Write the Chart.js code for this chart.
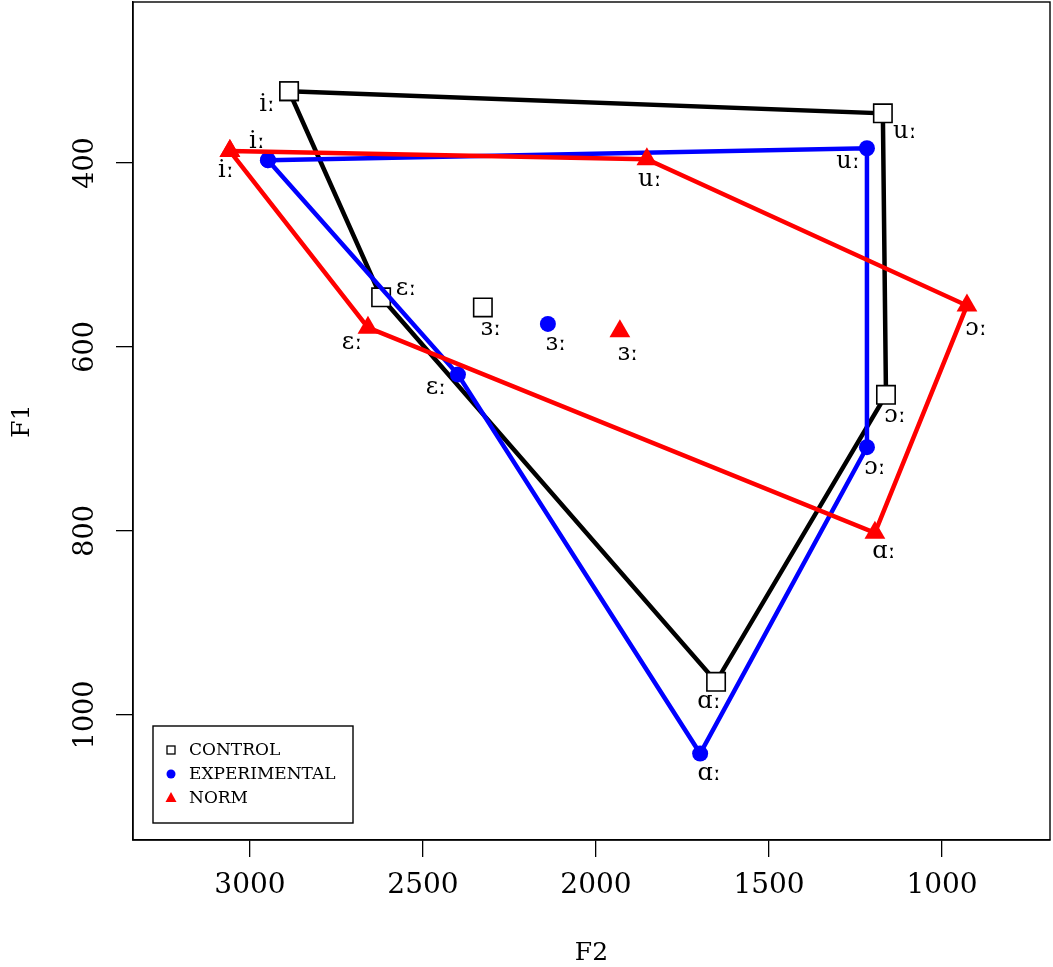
<!DOCTYPE html>
<html lang="en">
<head>
  <meta charset="UTF-8">
  <title>Vowel space F1/F2</title>
  <style>
    html, body { margin: 0; padding: 0; background: #fff; }
    #wrap { position: relative; width: 1053px; height: 967px; }
  </style>
</head>
<body>
  <div id="wrap">
    <canvas id="myChart" role="img" aria-label="F1 by F2 vowel chart for control, experimental and norm groups"></canvas>
  </div>

  <script src="https://cdnjs.cloudflare.com/ajax/libs/Chart.js/4.4.1/chart.umd.js"></script>
  <script>
    // vowels, in order: i u ɔ ɑ ɛ ɜ
    const vowels = ['iː', 'uː', 'ɔː', 'ɑː', 'ɛː', 'ɜː'];

    const controlF2 = [2887, 1171, 1162, 1653, 2621, 2327];
    const controlF1 = [322, 346, 652, 964, 546, 557];

    const experimentalF2 = [2948, 1217, 1217, 1699, 2399, 2139];
    const experimentalF1 = [397, 384, 709, 1042, 630, 575];

    const normF2 = [3058, 1853, 928, 1194, 2659, 1931];
    const normF1 = [387, 396, 555, 802, 579, 583];

    const xTicks = [3000, 2500, 2000, 1500, 1000];
    const yTicks = [400, 600, 800, 1000];

    // label offsets in px from the marker (i u ɔ ɑ ɛ ɜ)
    const labelOffsets = {
      control:      [[-22, 14], [22, 18], [9, 21], [-7, 20], [25, -9], [8, 21]],
      experimental: [[-11, -18], [-19, 14], [8, 21], [9, 20], [-22, 13], [8, 20]],
      norm:         [[-4, 20], [3, 20], [9, 23], [9, 19], [-16, 15], [8, 22]]
    };

    const FONT = "'DejaVu Serif', 'Liberation Serif', serif";

    // polygon goes i -> u -> ɔ -> ɑ -> ɛ -> back to i; ɜ is drawn alone
    function polygon(f2, f1) {
      const order = [0, 1, 2, 3, 4, 0];
      return order.map(i => ({ x: f2[i], y: f1[i] }));
    }
    function central(f2, f1) {
      return [{ x: f2[5], y: f1[5] }];
    }

    const styles = {
      control: { color: '#000000', fill: '#ffffff', shape: 'rect', r: 13, bw: 1.6 },
      experimental: { color: '#0000ff', fill: '#0000ff', shape: 'circle', r: 8, bw: 0 },
      norm: { color: '#ff0000', fill: '#ff0000', shape: 'triangle', r: 12, bw: 0 }
    };

    function makeSets(key, f2, f1, order) {
      const s = styles[key];
      const common = {
        pointStyle: s.shape,
        pointRadius: s.r,
        pointHoverRadius: s.r,
        pointBackgroundColor: s.fill,
        pointBorderColor: s.color,
        pointBorderWidth: s.bw,
        borderColor: s.color,
        order
      };
      return [
        Object.assign({ label: key, group: key, part: 'poly', data: polygon(f2, f1), showLine: true, borderWidth: 4.5, tension: 0 }, common),
        Object.assign({ label: key + ' ɜ', group: key, part: 'mid', data: central(f2, f1), showLine: false, borderWidth: 0 }, common)
      ];
    }

    function noPad(scale) {
      scale.paddingTop = 0;
      scale.paddingBottom = 0;
      scale.paddingLeft = 0;
      scale.paddingRight = 0;
    }

    const pointLabels = {
      id: 'pointLabels',
      afterDatasetsDraw(chart) {
        const ctx = chart.ctx;
        ctx.save();
        ctx.font = '24px ' + FONT;
        ctx.fillStyle = '#000';
        ctx.textAlign = 'center';
        ctx.textBaseline = 'middle';
        chart.data.datasets.forEach((ds, di) => {
          const meta = chart.getDatasetMeta(di);
          const offs = labelOffsets[ds.group];
          if (ds.part === 'poly') {
            for (let i = 0; i < 5; i++) {
              const el = meta.data[i];
              ctx.fillText(vowels[i], el.x + offs[i][0], el.y + offs[i][1]);
            }
          } else {
            const el = meta.data[0];
            ctx.fillText(vowels[5], el.x + offs[5][0], el.y + offs[5][1]);
          }
        });
        ctx.restore();
      }
    };

    const frame = {
      id: 'frame',
      afterDraw(chart) {
        const { ctx, chartArea: a, scales } = chart;
        ctx.save();
        // box round the plot
        ctx.strokeStyle = '#000';
        ctx.lineWidth = 1.4;
        ctx.strokeRect(a.left, a.top, a.right - a.left, a.bottom - a.top);

        // y tick labels, rotated like R's
        ctx.fillStyle = '#000';
        ctx.font = '27px ' + FONT;
        ctx.textAlign = 'center';
        ctx.textBaseline = 'middle';
        yTicks.forEach(v => {
          const py = scales.y.getPixelForValue(v);
          ctx.save();
          ctx.translate(86, py);
          ctx.rotate(-Math.PI / 2);
          ctx.fillText(String(v), 0, 0);
          ctx.restore();
        });

        // legend box
        const lx = a.left + 20, ly = a.bottom - 114, lw = 200, lh = 97;
        ctx.fillStyle = '#fff';
        ctx.fillRect(lx, ly, lw, lh);
        ctx.strokeStyle = '#000';
        ctx.lineWidth = 1.4;
        ctx.strokeRect(lx, ly, lw, lh);
        const rows = [
          ['CONTROL', 'control'],
          ['EXPERIMENTAL', 'experimental'],
          ['NORM', 'norm']
        ];
        const sx = lx + 18;
        ctx.font = '17px ' + FONT;
        ctx.textAlign = 'left';
        rows.forEach((row, i) => {
          const cy = ly + 24 + i * 24;
          const s = styles[row[1]];
          if (s.shape === 'rect') {
            ctx.fillStyle = '#fff';
            ctx.strokeStyle = '#000';
            ctx.lineWidth = 1.3;
            ctx.fillRect(sx - 4, cy - 4, 8, 8);
            ctx.strokeRect(sx - 4, cy - 4, 8, 8);
          } else if (s.shape === 'circle') {
            ctx.fillStyle = s.fill;
            ctx.beginPath();
            ctx.arc(sx, cy, 4.5, 0, Math.PI * 2);
            ctx.fill();
          } else {
            ctx.fillStyle = s.fill;
            ctx.beginPath();
            ctx.moveTo(sx, cy - 6);
            ctx.lineTo(sx + 5.5, cy + 4);
            ctx.lineTo(sx - 5.5, cy + 4);
            ctx.closePath();
            ctx.fill();
          }
          ctx.fillStyle = '#000';
          ctx.fillText(row[0], sx + 18, cy + 1);
        });
        ctx.restore();
      }
    };

    const ctx = document.getElementById('myChart');

    new Chart(ctx, {
      type: 'scatter',
      data: {
        datasets: [
          ...makeSets('control', controlF2, controlF1, 3),
          ...makeSets('experimental', experimentalF2, experimentalF1, 2),
          ...makeSets('norm', normF2, normF1, 1)
        ]
      },
      options: {
        responsive: true,
        maintainAspectRatio: false,
        animation: false,
        layout: { autoPadding: false, padding: { top: 2, right: 3, left: 0, bottom: 0 } },
        plugins: {
          legend: { display: false },
          tooltip: { enabled: false }
        },
        scales: {
          x: {
            type: 'linear',
            reverse: true,
            min: 688,
            max: 3338,
            afterFit(scale) { scale.height = 127; noPad(scale); },
            afterBuildTicks(scale) { scale.ticks = xTicks.map(v => ({ value: v })); },
            grid: { drawOnChartArea: false, drawTicks: true, tickLength: 17, color: '#000', lineWidth: 1.3 },
            border: { display: true, color: '#000', width: 1.4 },
            ticks: { color: '#000', padding: 12, maxRotation: 0, callback: v => String(v), font: { family: FONT, size: 28 } },
            title: { display: true, text: 'F2', color: '#000', padding: { top: 0, bottom: 1 }, font: { family: FONT, size: 25, lineHeight: 1 } }
          },
          y: {
            type: 'linear',
            reverse: true,
            min: 225,
            max: 1136,
            afterFit(scale) { scale.width = 133; noPad(scale); },
            afterBuildTicks(scale) { scale.ticks = yTicks.map(v => ({ value: v })); },
            grid: { drawOnChartArea: false, drawTicks: true, tickLength: 17, color: '#000', lineWidth: 1.3 },
            border: { display: true, color: '#000', width: 1.4 },
            ticks: { display: false },
            title: { display: true, text: 'F1', color: '#000', padding: { top: 10, bottom: 0 }, font: { family: FONT, size: 25, lineHeight: 1 } }
          }
        }
      },
      plugins: [pointLabels, frame]
    });
  </script>
</body>
</html>
